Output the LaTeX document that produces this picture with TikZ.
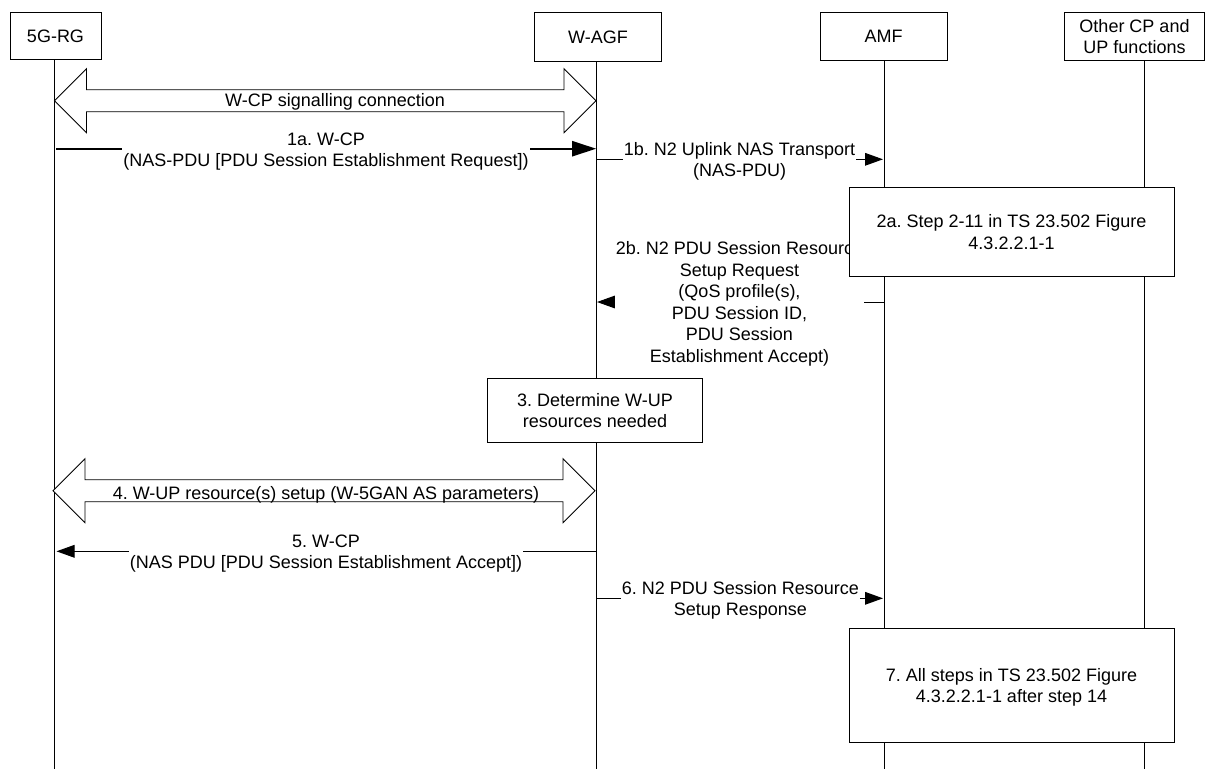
\documentclass[tikz,border=0pt]{standalone}
\usepackage{fontspec}
\setmainfont{Liberation Sans}
\usetikzlibrary{arrows.meta}
\tikzset{
 x=0.75pt,y=-0.75pt,
 ln/.style={draw=black,line width=0.75pt},
 actor/.style={draw=black,line width=0.75pt,fill=white,align=center,font=\fontsize{13.5}{16.2}\selectfont\frenchspacing,inner sep=0pt},
 lbl/.style={align=center,font=\fontsize{13.5}{16.2}\selectfont\frenchspacing,inner sep=0.75pt},
 msg/.style={draw=black,line width=0.75pt,-{Triangle[length=13.5pt,width=9.5pt]}},
 msgthick/.style={draw=black,line width=1.5pt,-{Triangle[length=18pt,width=11.5pt]}},
 dbl/.style={draw=black,line width=0.6pt,fill=white},
}
\newcommand{\bigarrow}[3]{%
 \draw[dbl] (#1,#3) -- (#1+32,#3-32) -- (#1+32,#3-11) -- (#2-32,#3-11) -- (#2-32,#3-32) -- (#2,#3)
  -- (#2-32,#3+32) -- (#2-32,#3+11) -- (#1+32,#3+11) -- (#1+32,#3+32) -- cycle;}
\begin{document}
\begin{tikzpicture}
\useasboundingbox (0,0) rectangle (1205,769);
\node[actor,minimum width=91*0.75pt,minimum height=46.6*0.75pt] (rg) at (55.5,36) {5G-RG};
\node[actor,minimum width=127*0.75pt,minimum height=48.6*0.75pt] (agf) at (598,37) {W-AGF};
\node[actor,minimum width=127*0.75pt,minimum height=48*0.75pt] (amf) at (883.5,36.7) {AMF};
\node[actor,minimum width=140*0.75pt,minimum height=48*0.75pt] (oth) at (1134.5,36.7) {Other CP and\\UP functions};
\coordinate (rge) at (54.5,769);
\coordinate (agfe) at (596,769);
\coordinate (amfe) at (884,769);
\coordinate (othe) at (1144,769);
\coordinate (rgt) at (54.5,59);
\coordinate (agft) at (596,61);
\coordinate (amft) at (884,60);
\coordinate (otht) at (1144,60);
\draw[ln] (rgt) -- (rge);
\draw[ln] (agft) -- (agfe);
\draw[ln] (amft) -- (amfe);
\draw[ln] (otht) -- (othe);
\bigarrow{54.5}{596}{100.7}
\node[lbl] (l0) at (335,101.5) {W-CP signalling connection};
\coordinate (a1l) at (56,148.7); \coordinate (a1r) at (596,148.7);
\draw[msgthick] (a1l) -- (a1r);
\node[lbl,fill=white] (l1a) at (326,151.5) {1a. W-CP\\(NAS-PDU [PDU Session Establishment Request])};
\coordinate (a1bl) at (596,159.3); \coordinate (a1br) at (883,159.3);
\draw[msg] (a1bl) -- (a1br);
\node[lbl,fill=white] (l1b) at (739.5,161.5) {1b. N2 Uplink NAS Transport\\(NAS-PDU)};
\coordinate (a2r) at (884,302); \coordinate (a2l) at (597,302);
\draw[msg] (a2r) -- (a2l);
\node[lbl,fill=white] (l2b) at (739.5,303.8) {2b. N2 PDU Session Resource\\Setup Request\\(QoS profile(s),\\PDU Session ID,\\PDU Session\\Establishment Accept)};
\node[actor,minimum width=325*0.75pt,minimum height=89*0.75pt] (s2a) at (1011.5,231.8) {2a. Step 2-11 in TS 23.502 Figure\\4.3.2.2.1-1};
\node[actor,minimum width=215*0.75pt,minimum height=64*0.75pt] (s3) at (595,410.7) {3. Determine W-UP\\resources needed};
\bigarrow{53}{595}{490.7}
\node[lbl] (l4) at (326,494.5) {4. W-UP resource(s) setup (W-5GAN AS parameters)};
\coordinate (a5r) at (596,551.3); \coordinate (a5l) at (56.5,551.3);
\draw[msg] (a5r) -- (a5l);
\node[lbl,fill=white] (l5) at (326,553.5) {5. W-CP\\(NAS PDU [PDU Session Establishment Accept])};
\coordinate (a6l) at (596,598.3); \coordinate (a6r) at (883,598.3);
\draw[msg] (a6l) -- (a6r);
\node[lbl,fill=white] (l6) at (740.4,600.5) {6. N2 PDU Session Resource\\Setup Response};
\node[actor,minimum width=325*0.75pt,minimum height=113.7*0.75pt] (s7) at (1011.5,685.8) {\rule{0pt}{12pt}7. All steps in TS 23.502 Figure\\4.3.2.2.1-1 after step 14};
\end{tikzpicture}
\end{document}
